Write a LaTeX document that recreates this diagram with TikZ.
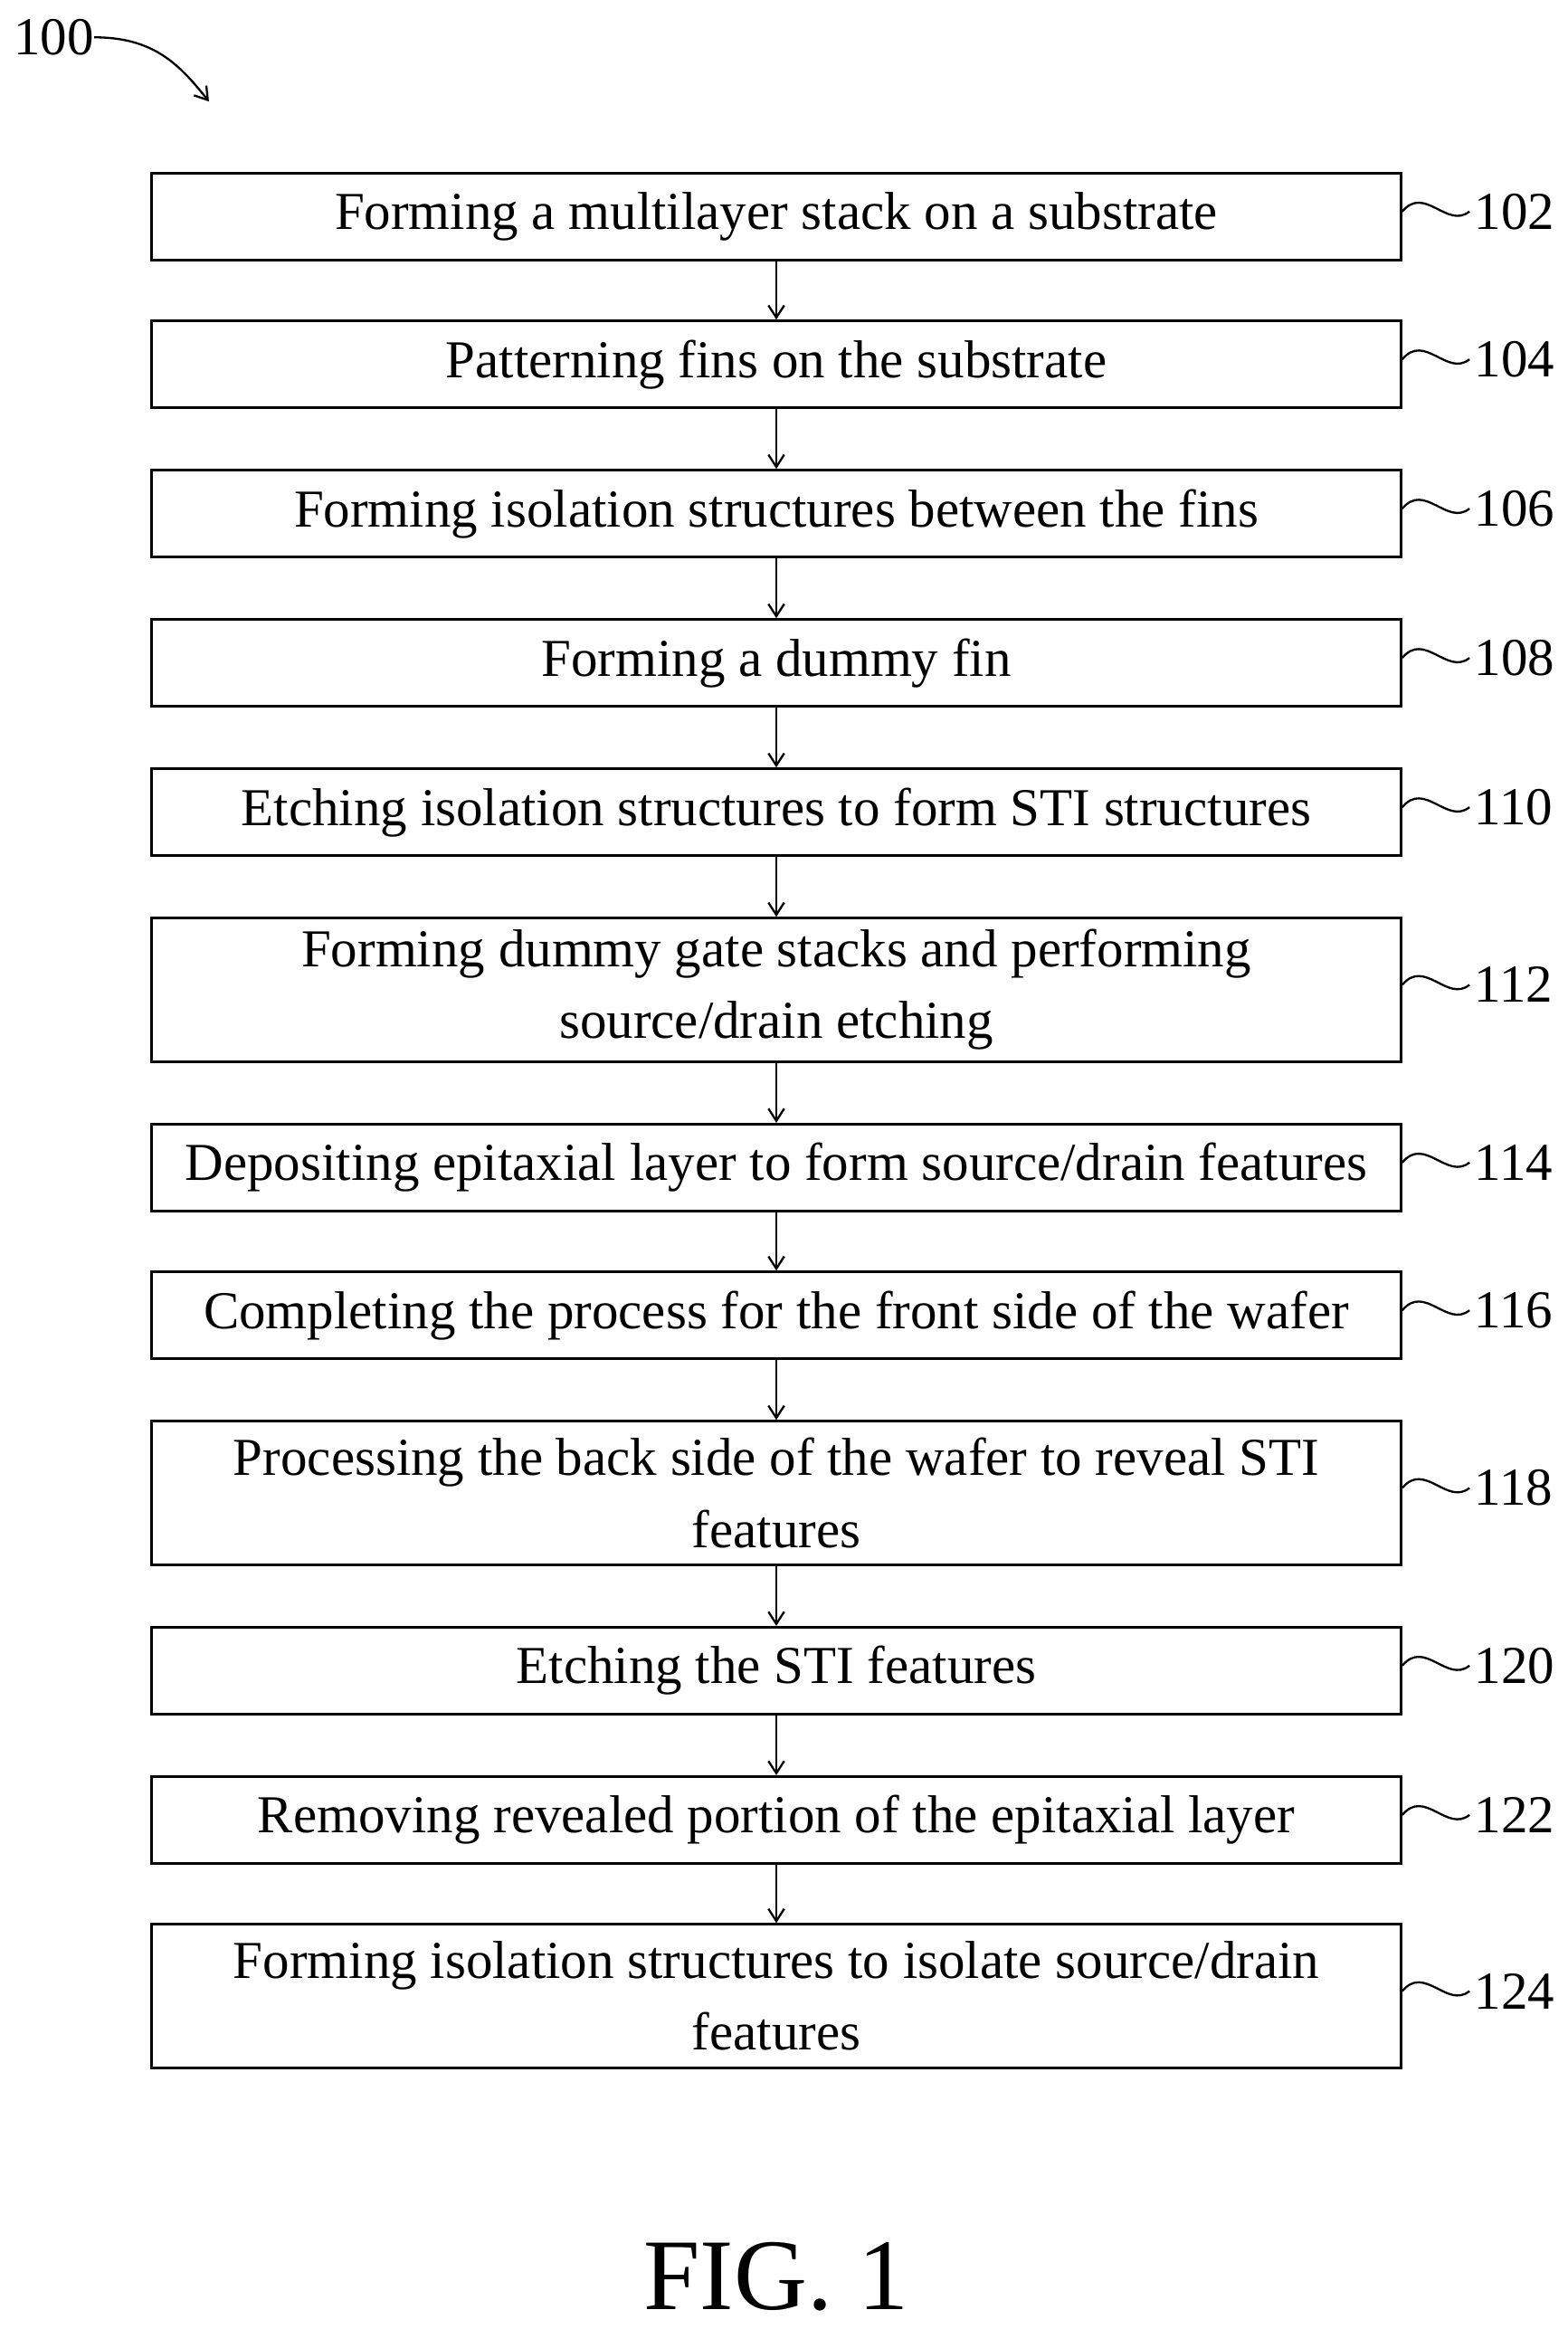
\documentclass[tikz,border=0pt]{standalone}
\usepackage{fontspec}
\setmainfont{Liberation Serif}
\usetikzlibrary{arrows.meta}
\tikzset{
  procbox/.style={draw, line width=1.6pt, minimum width=25.1cm, minimum height=1.74cm,
    align=center, inner sep=0pt, font=\fontsize{30.5}{41}\selectfont},
  tallbox/.style={procbox, minimum height=2.88cm},
  flow/.style={-{Straight Barb[length=7pt,width=9pt]}, line width=1.2pt},
  tag/.style={font=\fontsize{30.5}{36}\selectfont, anchor=west, inner sep=0pt}
}
\newcommand{\steptag}[2]{%
  \draw[line width=1.2pt] ([yshift=0.1cm]#1.east) .. controls +(15,-18) and +(-15,12) .. +(45,0) coordinate (#1t);
  \node[tag] at ([xshift=0.1cm]#1t) {#2};}
\begin{document}
\begin{tikzpicture}[x=0.03cm,y=-0.03cm]
  \useasboundingbox (0,0) rectangle (1050,1560);

  \node[procbox] (s102) at (520,145) {Forming a multilayer stack on a substrate};
  \node[procbox] (s104) at (520,244) {Patterning fins on the substrate};
  \node[procbox] (s106) at (520,344) {Forming isolation structures between the fins};
  \node[procbox] (s108) at (520,444) {Forming a dummy fin};
  \node[procbox] (s110) at (520,544) {Etching isolation structures to form STI structures};
  \node[tallbox] (s112) at (520,663) {Forming dummy gate stacks and performing\\source/drain etching};
  \node[procbox] (s114) at (520,782) {Depositing epitaxial layer to form source/drain features};
  \node[procbox] (s116) at (520,881) {Completing the process for the front side of the wafer};
  \node[tallbox] (s118) at (520,1000) {Processing the back side of the wafer to reveal STI\\features};
  \node[procbox] (s120) at (520,1119) {Etching the STI features};
  \node[procbox] (s122) at (520,1219) {Removing revealed portion of the epitaxial layer};
  \node[tallbox] (s124) at (520,1337) {Forming isolation structures to isolate source/drain\\features};

  \foreach \a/\b in {102/104,104/106,106/108,108/110,110/112,112/114,114/116,116/118,118/120,120/122,122/124}
    \draw[flow] (s\a) -- (s\b);

  \foreach \n in {102,104,106,108,110,112,114,116,118,120,122,124}
    \steptag{s\n}{\n};

  % figure number
  \node[font=\fontsize{30.5}{36}\selectfont, inner sep=0pt] (fig100) at (36,25) {100};
  \coordinate (fig100e) at (140,68);
  \draw[flow] (fig100.east) .. controls +(40,0) and +(-20,-25) .. (fig100e);
  \node[font=\fontsize{58}{66}\selectfont] (figlab) at (520,1525) {FIG. 1};
\end{tikzpicture}
\end{document}
